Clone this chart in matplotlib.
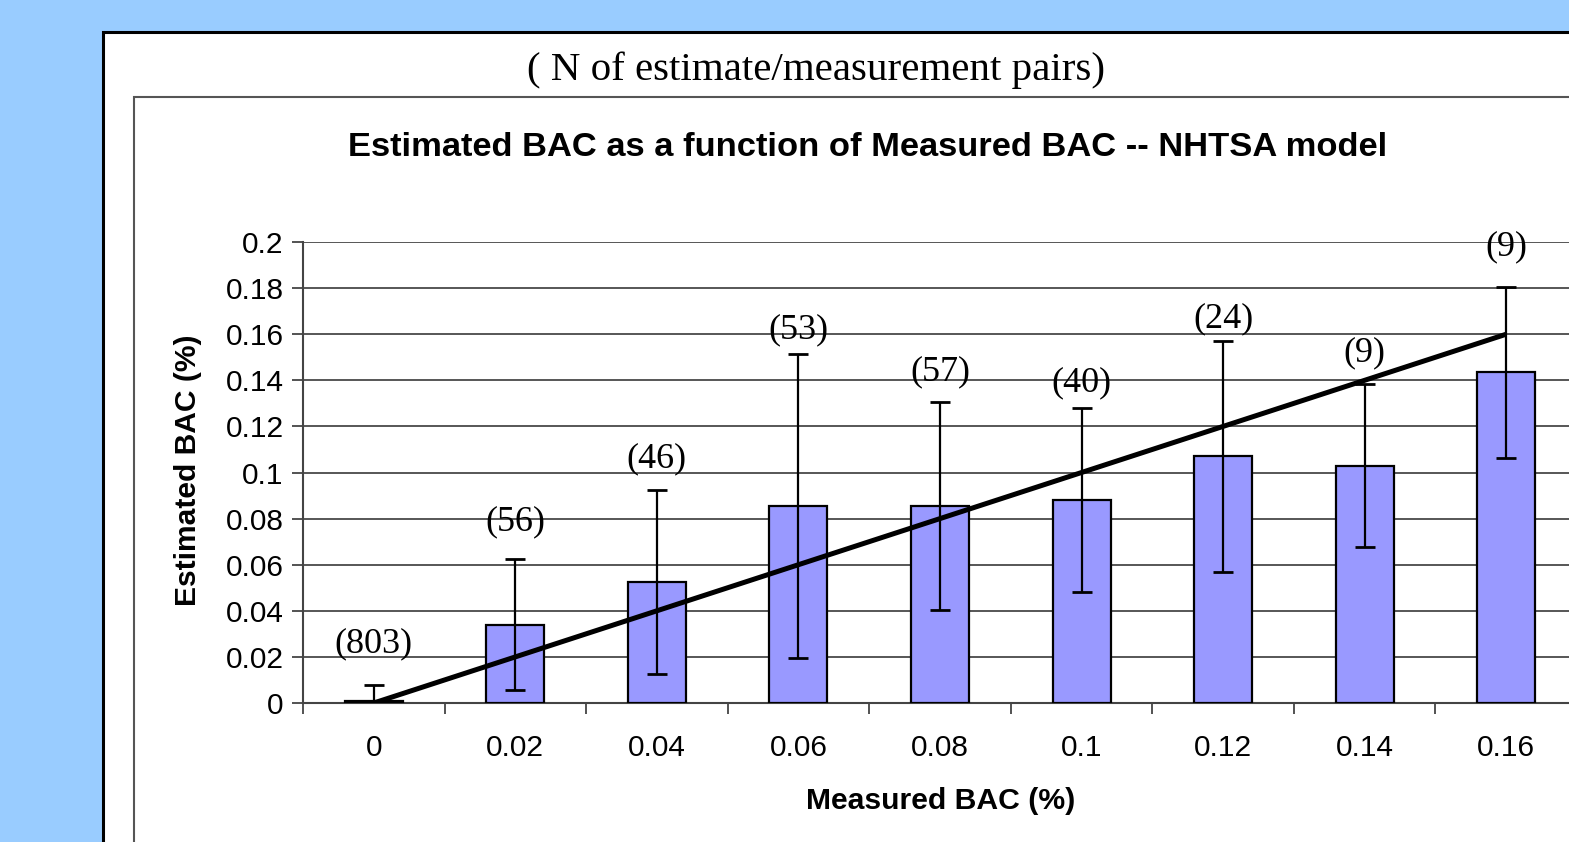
import matplotlib
matplotlib.use("Agg")
import matplotlib.pyplot as plt
from matplotlib.patches import Rectangle
import numpy as np

# ---------------- data ----------------
measured_labels = ["0", "0.02", "0.04", "0.06", "0.08", "0.1", "0.12", "0.14", "0.16"]
measured_bac = [0.0, 0.02, 0.04, 0.06, 0.08, 0.10, 0.12, 0.14, 0.16]
estimated_bac = [0.001, 0.034, 0.0525, 0.0855, 0.0855, 0.088, 0.107, 0.103, 0.1435]
error_half = [0.0068, 0.0285, 0.040, 0.066, 0.045, 0.040, 0.050, 0.0355, 0.037]
n_pairs = ["(803)", "(56)", "(46)", "(53)", "(57)", "(40)", "(24)", "(9)", "(9)"]

# ---------------- layout / style ----------------
W, H = 1569, 842
label_pad_pt = [30, 27, 22, 17, 22, 18, 16, 22, 29]
BG = "#99CCFF"
BAR = "#9999FF"
GRID = "#3a3a3a"

fig = plt.figure(figsize=(W / 100, H / 100), dpi=100, facecolor=BG)

def fx(px):
    return px / W

def fy(py):
    return 1 - py / H

# white outer panel
fig.patches.append(Rectangle((fx(103), fy(900)), 1.0, fy(32) - fy(900),
                             transform=fig.transFigure, facecolor="white",
                             edgecolor="black", linewidth=2.2, zorder=0))
# inner chart frame
fig.patches.append(Rectangle((fx(134), fy(900)), 1.0, fy(97) - fy(900),
                             transform=fig.transFigure, facecolor="white",
                             edgecolor="#555555", linewidth=1.5, zorder=1))

fig.text(fx(816), fy(70), "( N of estimate/measurement pairs)", ha="center", va="center",
         fontsize=29.5, family="Liberation Serif", color="black")
fig.text(fx(868), fy(148), "Estimated BAC as a function of Measured BAC -- NHTSA model",
         ha="center", va="center", fontsize=24.8, fontweight="bold",
         family="Liberation Sans", color="black")

left, right, top, bottom = 303, 1577, 242, 703
ax = fig.add_axes([fx(left), fy(bottom), fx(right) - fx(left), fy(top) - fy(bottom)])
ax.set_facecolor("white")
ax.set_zorder(2)

x = np.arange(len(measured_labels))
ax.bar(x, estimated_bac, width=0.41, color=BAR, edgecolor="black", linewidth=1.6, zorder=3)
ax.errorbar(x, estimated_bac, yerr=error_half, fmt="none", ecolor="black",
            elinewidth=1.6, capsize=7, capthick=2.0, zorder=4)
ax.plot(x, measured_bac, color="black", linewidth=3.6, zorder=5, solid_capstyle="butt")

for i, lab in enumerate(n_pairs):
    ax.annotate(lab, xy=(x[i], estimated_bac[i] + error_half[i]), xytext=(0, label_pad_pt[i]),
                textcoords="offset points", ha="center", va="center",
                fontsize=26, family="Liberation Serif", color="black",
                annotation_clip=False, zorder=6)

ax.set_xlim(-0.5, len(measured_labels) - 0.5)
ax.set_ylim(0, 0.2)
yt = np.round(np.arange(0, 0.2001, 0.02), 2)
ax.set_yticks(yt)
ax.set_yticklabels([("%g" % v) for v in yt], fontsize=21.5, family="Liberation Sans")
ax.yaxis.grid(True, color=GRID, linewidth=1.2, zorder=0)
ax.set_axisbelow(True)

ax.set_xticks(np.arange(-0.5, len(measured_labels), 1.0))
ax.set_xticklabels([])
ax.set_xticks(x, minor=True)
ax.set_xticklabels(measured_labels, minor=True, fontsize=21.5, family="Liberation Sans")
ax.tick_params(axis="x", which="major", direction="out", length=8, width=1.3, color="#444444")
ax.tick_params(axis="x", which="minor", length=0, pad=22)
ax.tick_params(axis="y", direction="out", length=8, width=1.3, color="#444444", pad=6)

for s in ["top", "right"]:
    ax.spines[s].set_visible(False)
for s in ["left", "bottom"]:
    ax.spines[s].set_color("#444444")
    ax.spines[s].set_linewidth(1.5)

fig.text(fx(941), fy(801), "Measured BAC (%)", ha="center", va="center",
         fontsize=21.7, fontweight="bold", family="Liberation Sans")
fig.text(fx(188), fy(470), "Estimated BAC (%)", ha="center", va="center", rotation=90,
         fontsize=21.6, fontweight="bold", family="Liberation Sans")

fig.savefig("out.png", dpi=100, facecolor=BG)
